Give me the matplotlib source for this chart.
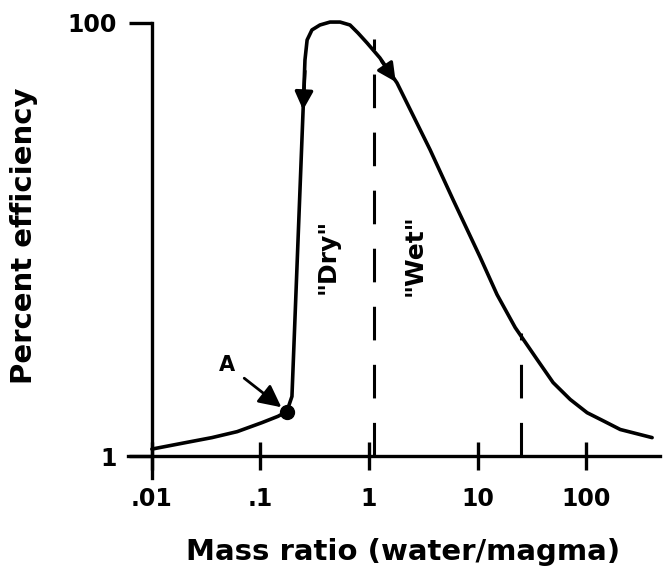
#!/usr/bin/env python3
"""Efficiency vs water/magma mass ratio — redrawn from a scanned figure."""
import matplotlib
matplotlib.use("Agg")
import matplotlib.pyplot as plt
from matplotlib.ticker import FixedLocator, NullLocator

# curve (x = mass ratio, y = percent efficiency)
ratio = [0.01, 0.021, 0.0357, 0.061, 0.103, 0.145, 0.175, 0.195, 0.247,
         0.257, 0.269, 0.298, 0.353, 0.437, 0.541, 0.668, 0.792, 0.959,
         1.26, 1.81, 3.65, 5.94, 10.5, 15.1, 22.2, 35.3, 49.6, 71.3, 102,
         147, 206, 405]
efficiency = [1.08, 1.16, 1.22, 1.30, 1.43, 1.53, 1.61, 1.89, 39.7,
              67.5, 83.5, 92.9, 97.9, 101, 101, 97.9, 89.9, 80.9,
              69.0, 52.9, 26.0, 15.3, 8.35, 5.58, 3.93, 2.80, 2.19, 1.83, 1.59,
              1.45, 1.33, 1.22]

point_a = (0.175, 1.61)
dry_wet_bounds = [1.1, 25]          # dashed dividers
bound_tops = [84, 3.7]              # where each divider meets the curve

xticks = [0.01, 0.1, 1, 10, 100]
xtick_labels = [".01", ".1", "1", "10", "100"]
yticks = [1, 100]
ytick_labels = ["1", "100"]

BOLD = dict(family="DejaVu Sans", fontweight="bold")

fig = plt.figure(figsize=(6.65, 5.8), dpi=100)
ax = fig.add_axes([128 / 665, 102 / 580, 532 / 665, 455 / 580])
ax.set_xscale("log")
ax.set_yscale("log")
ax.set_xlim(10 ** -2.22, 10 ** 2.68)
ax.set_ylim(10 ** -0.1, 100)

for side in ("top", "right"):
    ax.spines[side].set_visible(False)
ax.spines["bottom"].set_position(("data", 1))
ax.spines["left"].set_position(("data", 0.01))
for side in ("bottom", "left"):
    ax.spines[side].set_linewidth(2.4)

ax.xaxis.set_major_locator(FixedLocator(xticks))
ax.xaxis.set_minor_locator(NullLocator())
ax.yaxis.set_major_locator(FixedLocator(yticks))
ax.yaxis.set_minor_locator(NullLocator())
ax.set_xticklabels(xtick_labels, fontsize=17, **BOLD)
ax.set_yticklabels(ytick_labels, fontsize=17, **BOLD)
ax.tick_params(axis="x", direction="inout", length=20, width=2.4, pad=12)
ax.tick_params(axis="y", direction="out", length=16.5, width=2.4, pad=9)

ax.plot(ratio, efficiency, color="black", lw=2.6, clip_on=False,
        solid_capstyle="round", solid_joinstyle="round")

for xb, yt in zip(dry_wet_bounds, bound_tops):
    ax.plot([xb, xb], [1, yt], color="black", lw=2.2,
            dashes=(11, 8), clip_on=False)

# direction arrows on the curve
arrow = dict(arrowstyle="-|>,head_length=1.1,head_width=0.55",
             color="black", lw=2.4, shrinkA=0, shrinkB=0)
ax.annotate("", xy=(0.247, 39.7), xytext=(0.257, 60), arrowprops=arrow)
ax.annotate("", xy=(1.76, 53.5), xytext=(1.3, 67), arrowprops=arrow)

# point A
ax.plot(*point_a, "o", color="black", ms=10, clip_on=False)
ax.annotate("A", xy=point_a, xytext=(0.049, 2.65), fontsize=15,
            ha="center", va="center", **BOLD,
            arrowprops=dict(arrowstyle="-|>,head_length=0.9,head_width=0.45",
                            color="black", lw=2, shrinkA=6, shrinkB=5))

ax.text(0.419, 8.35, '"Dry"', rotation=90, fontsize=18, ha="center",
        va="center", **BOLD)
ax.text(2.65, 8.5, '"Wet"', rotation=90, fontsize=18, ha="center",
        va="center", **BOLD)

fig.text(403 / 665, 1 - 552 / 580, "Mass ratio (water/magma)", fontsize=21,
         ha="center", va="center", **BOLD)
fig.text(24 / 665, 1 - 236 / 580, "Percent efficiency", fontsize=21,
         rotation=90, ha="center", va="center", **BOLD)

fig.savefig("out.png", dpi=100)
